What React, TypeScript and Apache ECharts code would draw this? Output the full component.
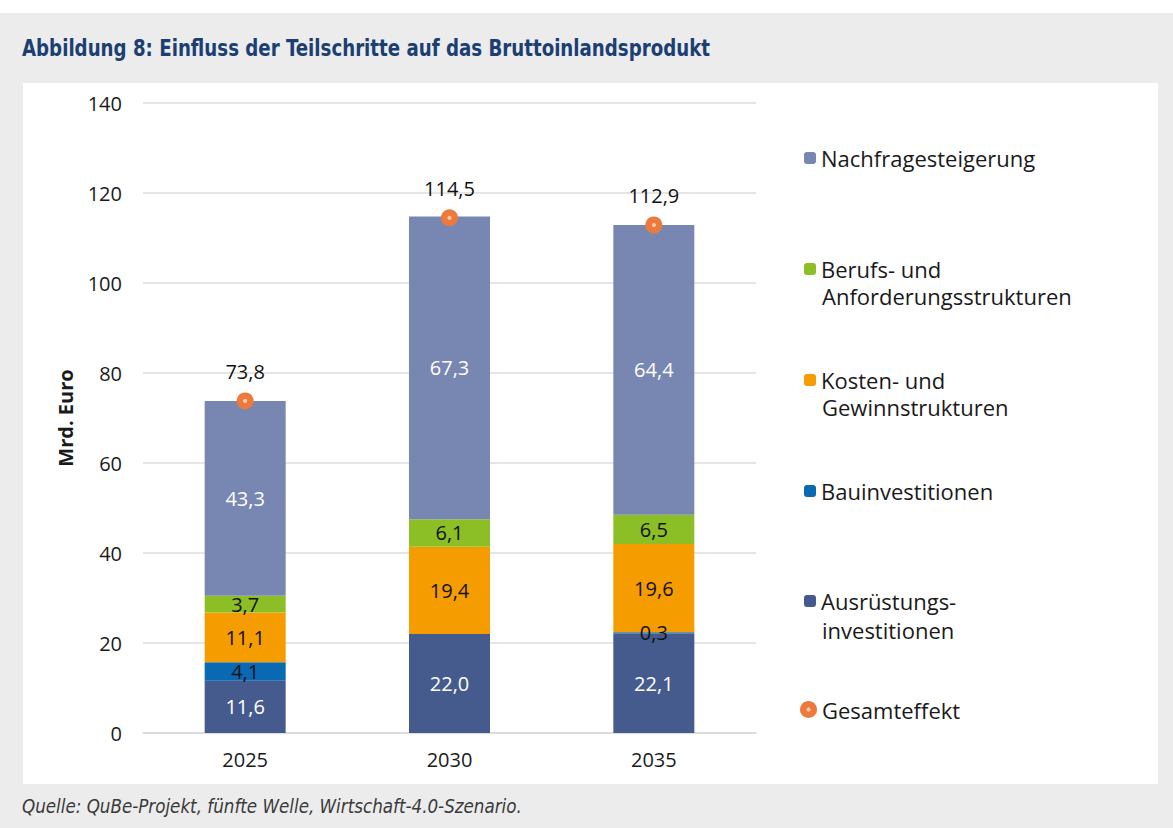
import React, { useEffect, useRef } from "react";
import * as echarts from "echarts";

const categories = ["2025", "2030", "2035"];
const ausruestung = [11.6, 22.0, 22.1];
const bau = [4.1, -0.3, 0.3];
const kosten = [11.1, 19.4, 19.6];
const berufs = [3.7, 6.1, 6.5];
const nachfrage = [43.3, 67.3, 64.4];
const gesamt = [73.8, 114.5, 112.9];

const FONT = "Open Sans";
const fmt = (v: number) => v.toFixed(1).replace(".", ",");

export default function App() {
  const ref = useRef<HTMLDivElement>(null);
  useEffect(() => {
    if (!ref.current) return;
    const chart = echarts.init(ref.current, undefined, { renderer: "svg" });
    const labelCommon = (color: string, hideNeg = false) => ({
      show: true,
      position: "inside",
      color,
      fontFamily: FONT,
      fontSize: 20,
      formatter: (p: any) => (hideNeg && p.value < 0 ? "" : fmt(p.value)),
    });
    const barBase = { type: "bar", stack: "total", barWidth: 81 };
    const gesamtColor = {
      type: "radial",
      x: 0.5,
      y: 0.5,
      r: 0.5,
      colorStops: [
        { offset: 0, color: "#f9c8a4" },
        { offset: 0.2, color: "#f9c8a4" },
        { offset: 0.28, color: "#ec7a3c" },
        { offset: 1, color: "#ec7a3c" },
      ],
    };
    const isG = (n: string) => n === "Gesamteffekt";
    const legendTextStyle = { fontFamily: FONT, fontSize: 22, color: "#1a1a1a", lineHeight: 24 };
    const legendItem = (name: string, label: string, center: number) => ({
      orient: "vertical",
      left: isG(name) ? 800 : 804,
      top: center - 12 - (isG(name) ? 2.5 : 0),
      padding: 0,
      itemWidth: isG(name) ? 17 : 12,
      itemHeight: isG(name) ? 17 : 12,
      itemGap: 0,
      selectedMode: false,
      data: [name],
      formatter: () => label,
      itemStyle: { opacity: 1 },
      textStyle: legendTextStyle,
    });
    const secondLine = (text: string, center: number, gap = 27) => ({
      type: "text",
      x: 822,
      y: center + gap,
      style: {
        text,
        fontFamily: FONT,
        fontSize: 22,
        lineHeight: 24,
        fill: "#1a1a1a",
        verticalAlign: "middle",
        align: "left",
      },
    });
    const centers = [158, 269, 380, 491, 601, 712];
    chart.setOption({
      animation: false,
      backgroundColor: "#ffffff",
      graphic: [
        { type: "rect", shape: { x: 0, y: 13, width: 1173, height: 815 }, style: { fill: "#ececec" }, z: -10 },
        { type: "rect", shape: { x: 23, y: 83, width: 1135, height: 701 }, style: { fill: "#ffffff" }, z: -9 },
        {
          type: "text",
          x: 22,
          y: 48,
          scaleX: 0.88,
          style: {
            text: "Abbildung 8: Einfluss der Teilschritte auf das Bruttoinlandsprodukt",
            fontFamily: "DejaVu Sans Condensed",
            fontWeight: "bold",
            fontSize: 23,
            fill: "#1b3f72",
            verticalAlign: "middle",
          },
        },
        {
          type: "text",
          x: 22,
          y: 806,
          scaleX: 0.98,
          style: {
            text: "Quelle: QuBe-Projekt, fünfte Welle, Wirtschaft-4.0-Szenario.",
            fontFamily: "DejaVu Sans Condensed",
            fontStyle: "italic",
            fontSize: 19,
            fill: "#3a3a3a",
            verticalAlign: "middle",
          },
        },
        secondLine("Anforderungsstrukturen", centers[1]),
        secondLine("Gewinnstrukturen", centers[2]),
        secondLine("investitionen", centers[4], 29),
      ],
      legend: [
        legendItem("Nachfragesteigerung", "Nachfragesteigerung", centers[0]),
        legendItem("Berufs- und Anforderungsstrukturen", "Berufs- und", centers[1]),
        legendItem("Kosten- und Gewinnstrukturen", "Kosten- und", centers[2]),
        legendItem("Bauinvestitionen", "Bauinvestitionen", centers[3]),
        legendItem("Ausrüstungsinvestitionen", "Ausrüstungs-", centers[4]),
        legendItem("Gesamteffekt", "Gesamteffekt", centers[5]),
      ],
      grid: { left: 143, right: 1173 - 756, top: 103, bottom: 828 - 733, containLabel: false },
      xAxis: {
        type: "category",
        data: categories,
        axisLine: { show: true, lineStyle: { color: "#d9d9d9", width: 1.5 } },
        axisTick: { show: false },
        axisLabel: { fontFamily: FONT, fontSize: 20, color: "#1a1a1a", margin: 16 },
      },
      yAxis: {
        type: "value",
        min: 0,
        max: 140,
        interval: 20,
        name: "Mrd. Euro",
        nameLocation: "middle",
        nameGap: 68,
        nameTextStyle: { fontFamily: FONT, fontSize: 20, fontWeight: "bold", color: "#1a1a1a" },
        axisLine: { show: false },
        axisTick: { show: false },
        axisLabel: { fontFamily: FONT, fontSize: 20, color: "#1a1a1a", margin: 21 },
        splitLine: { lineStyle: { color: "#dcdcdc", width: 1.5 } },
      },
      series: [
        { ...barBase, name: "Ausrüstungsinvestitionen", data: ausruestung, itemStyle: { color: "#455b8e" }, label: labelCommon("#ffffff") },
        { ...barBase, name: "Bauinvestitionen", data: bau, itemStyle: { color: "#0a69b3" }, label: labelCommon("#111111", true) },
        { ...barBase, name: "Kosten- und Gewinnstrukturen", data: kosten, itemStyle: { color: "#f59d00" }, label: labelCommon("#111111") },
        { ...barBase, name: "Berufs- und Anforderungsstrukturen", data: berufs, itemStyle: { color: "#8cbf26" }, label: labelCommon("#111111") },
        { ...barBase, name: "Nachfragesteigerung", data: nachfrage, itemStyle: { color: "#7787b1" }, label: labelCommon("#ffffff") },
        {
          type: "scatter",
          name: "Gesamteffekt",
          data: gesamt,
          symbol: "circle",
          symbolSize: 17,
          itemStyle: { color: gesamtColor as any, opacity: 1 },
          z: 5,
          label: {
            show: true,
            position: "top",
            distance: 11,
            color: "#111111",
            fontFamily: FONT,
            fontSize: 20,
            formatter: (p: any) => fmt(p.value),
          },
        },
      ],
    });
    return () => chart.dispose();
  }, []);
  return <div ref={ref} style={{ position: "absolute", left: 0, top: 0, width: 1173, height: 828 }} />;
}
